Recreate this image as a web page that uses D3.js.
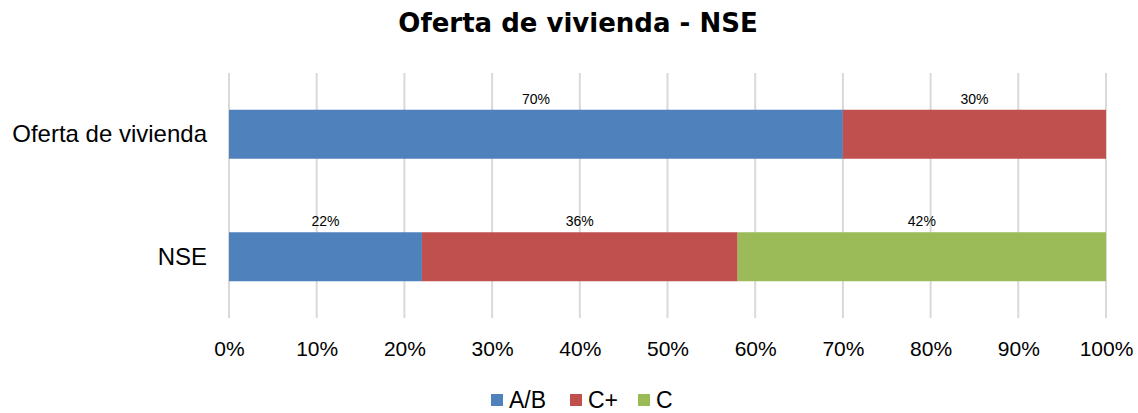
<!DOCTYPE html>
<html>
<head>
<meta charset="utf-8">
<script src="https://cdn.jsdelivr.net/npm/d3@7"></script>
<style>
  body { margin: 0; background: #fff; }
  text { font-family: "Liberation Sans", Arial, sans-serif; }
</style>
</head>
<body>
<div id="chart"></div>
<script>
const width = 1138,
    height = 413

const categories = ['Oferta de vivienda', 'NSE']
const seriesNames = ['A/B', 'C+', 'C']
const seriesColors = ['#4f81bd', '#c0504d', '#9bbb59']
// shares per category, in the order of seriesNames
const abValues = [70, 22]
const cPlusValues = [30, 36]
const cValues = [0, 42]
const tickValues = [0, 10, 20, 30, 40, 50, 60, 70, 80, 90, 100]

const margin = { top: 73, right: 32, bottom: 95, left: 229 }

const svg = d3.select('#chart')
  .append('svg')
    .attr('width', width)
    .attr('height', height)

svg.append('text')
  .attr('x', 578)
  .attr('y', 32)
  .attr('text-anchor', 'middle')
  .style('font-family', '"DejaVu Sans", sans-serif')
  .style('font-size', '26px')
  .style('font-weight', 'bold')
  .text('Oferta de vivienda - NSE')

const x = d3.scaleLinear()
  .domain([0, 100])
  .range([margin.left, width - margin.right])

const y = d3.scaleBand()
  .domain(categories)
  .range([margin.top, height - margin.bottom])
  .paddingInner(0.6)
  .paddingOuter(0.3)

// gridlines
svg.append('g')
  .selectAll('line')
  .data(tickValues)
  .join('line')
    .attr('x1', d => x(d))
    .attr('x2', d => x(d))
    .attr('y1', margin.top)
    .attr('y2', height - margin.bottom)
    .attr('stroke', '#d9d9d9')
    .attr('stroke-width', 2)

// stack the series
const rows = categories.map((c, i) => ({
  category: c,
  'A/B': abValues[i],
  'C+': cPlusValues[i],
  'C': cValues[i]
}))
const stacked = d3.stack().keys(seriesNames)(rows)

const layers = svg.append('g')
  .selectAll('g')
  .data(stacked)
  .join('g')
    .attr('fill', (d, i) => seriesColors[i])

layers.selectAll('rect')
  .data(d => d.filter(s => s[1] - s[0] > 0))
  .join('rect')
    .attr('x', d => x(d[0]))
    .attr('y', d => y(d.data.category))
    .attr('width', d => x(d[1]) - x(d[0]))
    .attr('height', y.bandwidth())

// value labels above each segment
layers.selectAll('text')
  .data(d => d.filter(s => s[1] - s[0] > 0))
  .join('text')
    .attr('x', d => (x(d[0]) + x(d[1])) / 2)
    .attr('y', d => y(d.data.category) - 6)
    .attr('text-anchor', 'middle')
    .attr('fill', '#000')
    .style('font-size', '14px')
    .text(d => (d[1] - d[0]) + '%')

// category axis
svg.append('g')
  .selectAll('text')
  .data(categories)
  .join('text')
    .attr('x', 207)
    .attr('y', d => y(d) + y.bandwidth() / 2 + 8)
    .attr('text-anchor', 'end')
    .style('font-size', '24px')
    .text(d => d)

// value axis
const xAxis = svg.append('g')
  .attr('transform', `translate(0, ${height - margin.bottom})`)
  .call(d3.axisBottom(x).tickValues(tickValues).tickFormat(d => d + '%').tickSize(0).tickPadding(23))
xAxis.select('.domain').remove()
xAxis.selectAll('text')
  .style('font-size', '21px')
  .style('font-family', '"Liberation Sans", Arial, sans-serif')
  .attr('fill', '#000')

// legend
const legendX = [491, 570, 638]
const legend = svg.append('g')
  .selectAll('g')
  .data(seriesNames)
  .join('g')
    .attr('transform', (d, i) => `translate(${legendX[i]}, 394)`)
legend.append('rect')
  .attr('width', 12)
  .attr('height', 12)
  .attr('fill', (d, i) => seriesColors[i])
legend.append('text')
  .attr('x', 18)
  .attr('y', 14)
  .style('font-size', '23px')
  .text(d => d)
</script>
</body>
</html>
